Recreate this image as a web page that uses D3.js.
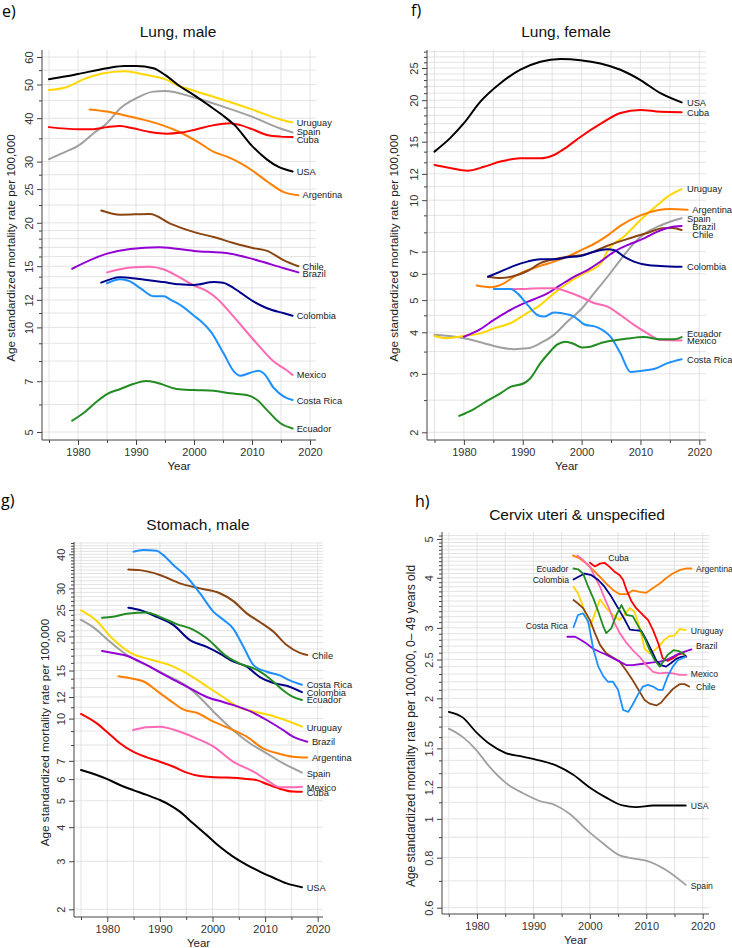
<!DOCTYPE html>
<html><head><meta charset="utf-8">
<script src="https://cdn.jsdelivr.net/npm/d3@7"></script>
<style>body{margin:0;background:#fff}svg{display:block}</style>
</head><body>
<svg id="c" width="732" height="948"></svg>
<script>
// ---------- categories / colours ----------
const countries = ["Spain","Uruguay","Argentina","Cuba","USA","Chile","Brazil","Mexico","Colombia","Costa Rica","Ecuador"];
const countryColors = ["#A0A0A0","#FFD700","#FF7F00","#FF0000","#000000","#8B4513","#9400D3","#FF69B4","#00008B","#1E90FF","#228B22"];

// ---------- e) Lung, male ----------
const lungMaleUSA = [[1975,51.8],[1978,52.8],[1980,53.6],[1985,55.7],[1988,56.5],[1990,56.5],[1993,55.7],[1995,53.3],[1997.5,49.5],[2000,46.6],[2002.5,43.6],[2005,40.7],[2007,38.2],[2010,33.3],[2012.6,30.4],[2014.5,29.0],[2017,28.1]];
const lungMaleUruguay = [[1975,48.2],[1978,49.1],[1981,51.8],[1984,53.7],[1988,54.6],[1991.5,53.4],[1995,51.8],[1997.5,49.5],[2000,48.0],[2005,45.2],[2010,42.4],[2015,39.6],[2017,38.9]];
const lungMaleSpain = [[1975,30.5],[1978,32.1],[1980,33.3],[1982.7,36.2],[1985,38.7],[1987.3,42.7],[1990,45.6],[1993,47.7],[1995,47.9],[2000,45.9],[2005,43.2],[2010,40.4],[2015,37.3],[2017,36.4]];
const lungMaleCuba = [[1975,37.7],[1980,37.2],[1982.7,37.2],[1985,37.7],[1987.3,38.0],[1989.5,37.4],[1992.4,36.5],[1995.3,36.1],[1997.5,36.3],[2000,37.0],[2003.4,38.2],[2006.2,38.7],[2008,38.2],[2010,37.2],[2012.6,35.8],[2014.9,35.4],[2017,35.3]];
const lungMaleArgentina = [[1982,42.4],[1985,41.8],[1988,40.8],[1991,39.7],[1994.5,38.2],[1997.5,36.5],[2001,33.9],[2003.4,32.0],[2005.7,31.0],[2008,29.7],[2010.3,28.1],[2012.6,26.3],[2015.5,24.5],[2018,24.0]];
const lungMaleChile = [[1984,21.7],[1987.3,21.1],[1992.4,21.2],[1995.9,19.9],[2000,18.8],[2003.4,18.2],[2006.8,17.5],[2010.3,16.9],[2012.6,16.6],[2015.5,15.6],[2018,15.0]];
const lungMaleBrazil = [[1979,14.75],[1985,16.3],[1989,16.8],[1994,17.0],[2000,16.6],[2006.3,16.3],[2010.3,15.7],[2015.5,14.8],[2018,14.4]];
const lungMaleMexico = [[1985,14.4],[1989.6,14.9],[1992.4,14.95],[1994.7,14.7],[1997,14.1],[2000,13.2],[2002.3,12.7],[2004,12.1],[2006.9,10.7],[2010.3,9.2],[2013.8,7.96],[2016.1,7.5],[2017,7.3]];
const lungMaleColombia = [[1984,13.45],[1987.3,13.95],[1990.2,13.8],[1994.7,13.5],[1997.5,13.3],[2000,13.25],[2003.4,13.5],[2005,13.45],[2006.9,12.96],[2010.3,11.86],[2012.6,11.35],[2015.5,10.98],[2017,10.8]];
const lungMaleCostaRica = [[1985,13.4],[1987.3,13.75],[1988.8,13.6],[1990.8,12.95],[1993,12.3],[1994.8,12.3],[1996,12.0],[1998,11.5],[2000,10.8],[2001.1,10.45],[2002.9,9.72],[2005.1,8.42],[2006.9,7.46],[2008,7.26],[2010.3,7.46],[2011.1,7.5],[2012,7.38],[2013.8,6.68],[2015.5,6.32],[2017,6.18]];
const lungMaleEcuador = [[1979,5.39],[1980.9,5.66],[1983.2,6.11],[1985,6.43],[1987.3,6.65],[1989.5,6.87],[1991.8,7.01],[1993.6,6.93],[1997,6.65],[2000,6.6],[2003.4,6.57],[2006.3,6.46],[2009.1,6.39],[2010.9,6.18],[2012.6,5.78],[2014.9,5.3],[2017,5.12]];
const lungMaleTicks = [5,7,10,12,15,20,25,30,40,50,60];
const lungMaleMinor = [6,8,9,11,13,14,16,17,18,19,22.5,27.5,35,45,55];
const lungMaleLabels = [["Uruguay",2017.7,38.8],["Spain",2017.7,36.5],["Cuba",2017.7,34.6],["USA",2017.7,28.0],["Argentina",2018.7,24.1],["Chile",2018.7,15.0],["Brazil",2018.7,14.3],["Colombia",2017.7,10.8],["Mexico",2017.7,7.3],["Costa Rica",2017.7,6.14],["Ecuador",2017.7,5.1]];

// ---------- f) Lung, female ----------
const lungFemaleUSA = [[1975,14.0],[1977.7,15.4],[1980,17.05],[1982.8,19.8],[1986.2,22.5],[1989.6,24.7],[1993,26.1],[1996.4,26.6],[1999.8,26.4],[2003.2,25.8],[2006.6,24.7],[2010,23.0],[2013.4,21.0],[2017,19.7]];
const lungFemaleCuba = [[1975,12.77],[1977.7,12.5],[1980.6,12.27],[1983.4,12.6],[1986.2,13.07],[1989.6,13.37],[1993,13.37],[1995.3,13.68],[1997.6,14.5],[1999.8,15.5],[2003.2,16.96],[2006.6,18.3],[2010,18.7],[2013.4,18.45],[2017,18.4]];
const lungFemaleUruguay = [[1975,3.9],[1977.2,3.84],[1980,3.9],[1982.8,3.97],[1985.1,4.11],[1987.9,4.26],[1990.2,4.51],[1993,4.84],[1995.3,5.24],[1997.6,5.62],[2000.4,6.02],[2003.3,6.46],[2004.5,7.08],[2007.2,7.77],[2010,8.72],[2012.9,9.67],[2014.6,10.25],[2017,10.8]];
const lungFemaleArgentina = [[1982.2,5.53],[1984.5,5.47],[1986.8,5.62],[1988.5,5.88],[1990.2,6.09],[1993,6.34],[1995.3,6.53],[1997.6,6.76],[2000,7.08],[2002.5,7.45],[2004.5,7.85],[2006.7,8.4],[2010,9.0],[2012.9,9.33],[2015,9.41],[2018,9.35]];
const lungFemaleSpain = [[1975,3.93],[1980,3.84],[1983.4,3.71],[1986.2,3.6],[1988.5,3.56],[1990.8,3.58],[1993,3.71],[1995.3,3.93],[1997.6,4.31],[1999.8,4.67],[2002.1,5.24],[2004.4,5.88],[2006.6,6.61],[2008.9,7.42],[2010.8,7.95],[2013.6,8.42],[2017,8.82]];
const lungFemaleBrazil = [[1980,3.88],[1982.8,4.09],[1985.1,4.36],[1987.4,4.62],[1989.6,4.84],[1991.9,5.03],[1994.2,5.24],[1996.4,5.55],[1998.7,5.88],[2001,6.16],[2003.2,6.53],[2005.5,6.99],[2008,7.35],[2010,7.59],[2012.9,8.04],[2015.1,8.29],[2017,8.36]];
const lungFemaleChile = [[1984.1,5.88],[1986.2,5.83],[1988.5,5.91],[1990.8,6.12],[1993,6.46],[1995.3,6.64],[1997.6,6.76],[2000.2,6.84],[2002.1,7.0],[2004.3,7.28],[2007.6,7.62],[2011,7.95],[2013.8,8.23],[2015.5,8.25],[2017,8.13]];
const lungFemaleColombia = [[1984.1,5.88],[1986.2,6.09],[1988.5,6.34],[1990.8,6.53],[1993,6.64],[1995.3,6.64],[1997.6,6.73],[1999.8,6.79],[2002.1,6.99],[2004.4,7.11],[2005.5,7.08],[2007.2,6.76],[2008.9,6.53],[2011.2,6.38],[2013.4,6.34],[2017,6.3]];
const lungFemaleMexico = [[1985.1,5.4],[1989.1,5.4],[1993,5.43],[1995.3,5.43],[1997.6,5.3],[1999.8,5.12],[2002.1,4.9],[2004.4,4.78],[2006.6,4.51],[2008.9,4.21],[2011.2,3.97],[2013.4,3.79],[2017,3.78]];
const lungFemaleCostaRica = [[1985.1,5.4],[1987.9,5.4],[1989.1,5.24],[1990.8,4.84],[1992.5,4.51],[1993.6,4.46],[1995.3,4.59],[1997.6,4.53],[1998.7,4.46],[2000.4,4.23],[2002.7,4.14],[2004.9,3.88],[2006.6,3.46],[2008.3,3.04],[2010,3.06],[2012.3,3.1],[2014.6,3.23],[2017,3.32]];
const lungFemaleEcuador = [[1979.2,2.24],[1981.7,2.35],[1984,2.49],[1986.2,2.62],[1987.9,2.74],[1990.2,2.81],[1991.3,2.91],[1993,3.23],[1994.4,3.46],[1995.9,3.68],[1997.3,3.75],[1998.7,3.69],[2000.1,3.6],[2001.5,3.62],[2003.2,3.71],[2005.5,3.78],[2007.8,3.83],[2010.6,3.87],[2013.4,3.81],[2015.7,3.81],[2017,3.87]];
const lungFemaleTicks = [2,3,4,5,6,7,10,12,15,20,25];
const lungFemaleMinor = [2.5,3.5,4.5,8,9,11,13,14,16,17,18,19,21,22,23,24,26,27,28];
const lungFemaleLabels = [["USA",2017.9,19.7],["Cuba",2017.9,18.3],["Uruguay",2017.9,10.8],["Argentina",2018.8,9.35],["Spain",2017.9,8.8],["Brazil",2018.8,8.32],["Chile",2018.8,7.87],["Colombia",2017.9,6.3],["Ecuador",2017.9,3.96],["Mexico",2017.9,3.77],["Costa Rica",2017.9,3.32]];

// ---------- g) Stomach, male ----------
const stomachUSA = [[1975,6.48],[1978,6.21],[1979.9,6.01],[1982.4,5.71],[1984.9,5.47],[1987.5,5.25],[1990,5.03],[1991.9,4.82],[1993.8,4.56],[1996.3,4.13],[1998.9,3.74],[2001.4,3.39],[2003.9,3.12],[2006.5,2.91],[2009,2.75],[2011.6,2.61],[2014.1,2.49],[2017,2.41]];
const stomachCuba = [[1975,10.4],[1978,9.6],[1979.9,8.95],[1982.4,8.12],[1984.9,7.56],[1987.5,7.21],[1990,6.95],[1992.6,6.66],[1995.1,6.34],[1997.6,6.16],[2000.2,6.1],[2002.7,6.08],[2006.5,6.01],[2008.4,5.95],[2010.3,5.76],[2012.8,5.53],[2015.3,5.4],[2017,5.39]];
const stomachMexico = [[1984.9,9.08],[1987.5,9.29],[1990,9.34],[1993.8,8.95],[1997.6,8.35],[2000.2,7.89],[2003.9,6.95],[2007.8,6.39],[2010.3,5.95],[2012.8,5.6],[2015,5.6],[2017,5.63]];
const stomachArgentina = [[1982.1,14.3],[1984.9,14.0],[1986.8,13.7],[1990,12.4],[1992.6,11.4],[1994.4,10.8],[1997,10.5],[2000.2,9.74],[2003.2,9.21],[2006.5,8.58],[2009.6,7.78],[2012.8,7.42],[2015.3,7.25],[2018,7.2]];
const stomachBrazil = [[1979,17.7],[1981.1,17.4],[1983.7,17.0],[1987.5,15.7],[1991.3,14.3],[1995.1,13.1],[1998.9,12.0],[2002,11.5],[2004,11.2],[2007.8,10.5],[2010.3,9.88],[2013.4,9.08],[2015.3,8.58],[2018,8.23]];
const stomachSpain = [[1975,23.0],[1977.5,21.5],[1980,19.5],[1982.5,17.8],[1985,16.5],[1987.5,15.7],[1991.3,14.4],[1995,13.2],[1997.5,12.0],[2000.2,10.6],[2003.9,9.08],[2007.1,8.12],[2010.3,7.46],[2013.4,6.86],[2017,6.34]];
const stomachUruguay = [[1975,24.9],[1978,22.8],[1981,19.6],[1984.7,17.3],[1988,16.5],[1991.5,15.8],[1995.5,14.5],[1999,13.1],[2002,12.0],[2005,11.0],[2008,10.6],[2011.6,10.2],[2014.7,9.74],[2017,9.34]];
const stomachEcuador = [[1979,23.4],[1981.1,23.6],[1983.7,24.2],[1987.5,24.5],[1990,23.6],[1993.2,22.2],[1996.3,21.2],[1998.9,19.7],[2002.7,16.9],[2005.2,15.9],[2008.4,15.1],[2010.9,14.0],[2013.4,12.7],[2015.3,12.0],[2017,11.7]];
const stomachColombia = [[1984,25.5],[1986.2,25.0],[1989.4,23.6],[1992.6,22.0],[1995.7,19.4],[1998.9,18.3],[2001.4,17.3],[2003.9,16.2],[2006.5,15.5],[2009,14.2],[2011.6,13.5],[2014.1,13.2],[2017,12.5]];
const stomachChile = [[1984,35.2],[1986.2,35.0],[1990,33.6],[1993.8,31.3],[1997.6,30.0],[2001.4,28.8],[2003.9,27.0],[2006.5,24.3],[2009,22.6],[2011.6,20.8],[2014.1,18.6],[2016.6,17.4],[2018,17.1]];
const stomachCostaRica = [[1985,40.9],[1986.8,41.5],[1989.4,41.2],[1990.6,39.8],[1992.6,36.5],[1995.1,33.1],[1997.6,28.8],[2000.2,24.6],[2002.1,23.0],[2003.9,21.4],[2005.9,18.3],[2007.8,15.7],[2010.3,14.85],[2012.8,14.4],[2014.7,13.8],[2017,13.3]];
const stomachTicks = [2,3,4,5,6,7,10,12,15,20,25,30,40];
const stomachMinor = [8,9,11,13,14,16,17,18,19,21,22,23,24,26,27,28,29,31,32,33,34,35,36,37,38,39,41,42,43,44];
const stomachLabels = [["Chile",2018.9,17.0],["Costa Rica",2017.9,13.3],["Colombia",2017.9,12.4],["Ecuador",2017.9,11.7],["Uruguay",2017.9,9.29],["Brazil",2018.9,8.23],["Argentina",2018.9,7.19],["Spain",2017.9,6.3],["Mexico",2017.9,5.6],["Cuba",2017.9,5.37],["USA",2017.9,2.4]];

// ---------- h) Cervix uteri & unspecified ----------
const cervixUSA = [[1975,1.85],[1977.5,1.79],[1979.8,1.65],[1982.2,1.54],[1985.1,1.46],[1988.1,1.43],[1991,1.40],[1994,1.36],[1997,1.29],[1999.9,1.20],[2002.9,1.13],[2005.8,1.08],[2008.2,1.07],[2011.2,1.08],[2014.1,1.08],[2017,1.08]];
const cervixSpain = [[1975,1.68],[1977.5,1.60],[1979.8,1.49],[1982.2,1.35],[1985.1,1.23],[1988.1,1.16],[1991,1.11],[1994,1.08],[1996.4,1.03],[1999.4,0.94],[2002.3,0.869],[2005.2,0.812],[2007.6,0.797],[2010.5,0.782],[2013.5,0.745],[2017,0.684]];
const cervixArgentina = [[1997,4.55],[1998.2,4.47],[1999.4,4.34],[2000.6,4.18],[2001.8,4.02],[2002.9,3.87],[2004.1,3.73],[2005.3,3.64],[2006.5,3.64],[2007.6,3.72],[2008.8,3.69],[2010,3.67],[2011.2,3.77],[2012.4,3.87],[2013.5,3.99],[2014.7,4.10],[2015.9,4.18],[2017.1,4.22],[2018,4.22]];
const cervixCuba = [[2000,4.36],[2000.9,4.27],[2001.8,4.34],[2002.6,4.36],[2003.5,4.26],[2004.4,4.14],[2005.3,4.06],[2005.9,3.95],[2006.5,3.73],[2007.4,3.49],[2008.2,3.36],[2009.4,3.23],[2010.3,3.14],[2011.2,2.96],[2012.1,2.75],[2012.9,2.52],[2013.8,2.48],[2014.7,2.52],[2015.6,2.57],[2016.5,2.59],[2017.1,2.54]];
const cervixMexico = [[1997.8,4.55],[1998.8,4.43],[2000,4.26],[2000.9,4.02],[2001.8,3.80],[2002.6,3.56],[2003.5,3.33],[2004.4,3.08],[2005.3,2.91],[2006.5,2.75],[2007.6,2.64],[2008.8,2.54],[2010,2.42],[2011.2,2.33],[2012.4,2.31],[2013.5,2.32],[2014.7,2.31],[2015.9,2.29],[2017.1,2.29]];
const cervixEcuador = [[1997.1,4.22],[1997.9,4.2],[1998.8,4.10],[1999.7,3.80],[2000.6,3.56],[2001.5,3.29],[2002.4,3.02],[2002.9,2.91],[2003.8,2.99],[2004.7,3.23],[2005.6,3.42],[2006.5,3.23],[2007.6,3.21],[2008.8,2.99],[2009.7,2.83],[2010.6,2.64],[2011.5,2.49],[2012.4,2.40],[2013.8,2.57],[2014.9,2.64],[2015.9,2.62],[2016.8,2.57]];
const cervixColombia = [[1997.1,3.96],[1997.9,4.02],[1999.1,4.10],[2000.3,4.06],[2001.5,3.95],[2002.6,3.80],[2003.8,3.59],[2005,3.36],[2006.2,3.14],[2007.1,2.97],[2007.9,2.96],[2009.1,2.95],[2010,2.80],[2010.9,2.64],[2011.8,2.48],[2012.6,2.42],[2013.5,2.40],[2014.4,2.45],[2015.3,2.51],[2016.2,2.54],[2017,2.55]];
const cervixUruguay = [[1997.1,3.80],[1997.9,3.66],[1998.8,3.39],[2000,3.01],[2000.9,3.26],[2001.8,3.53],[2002.9,3.36],[2004.1,3.23],[2005.3,3.14],[2006.2,3.25],[2007.1,3.36],[2007.9,3.29],[2008.8,3.02],[2009.7,2.66],[2010.6,2.59],[2011.5,2.64],[2012.4,2.71],[2013.2,2.80],[2014.1,2.86],[2015,2.87],[2015.9,2.98],[2017,2.96]];
const cervixCostaRica = [[1997.1,3.01],[1997.9,3.23],[1998.8,3.26],[1999.7,3.11],[2000.6,2.66],[2001.5,2.40],[2002.4,2.27],[2003.2,2.20],[2004.1,2.20],[2005,2.10],[2005.9,1.87],[2006.8,1.85],[2007.6,1.93],[2008.5,2.04],[2009.4,2.14],[2010.3,2.16],[2011.2,2.14],[2012.1,2.10],[2012.9,2.10],[2013.8,2.27],[2014.7,2.40],[2015.6,2.49],[2017,2.54]];
const cervixChile = [[1997.1,3.52],[1997.9,3.45],[1998.8,3.36],[2000,3.14],[2000.9,2.91],[2001.8,2.72],[2002.9,2.59],[2004.1,2.53],[2005.3,2.47],[2006.5,2.34],[2007.6,2.22],[2008.8,2.08],[2009.7,1.98],[2010.6,1.94],[2011.8,1.92],[2012.6,1.95],[2013.5,2.02],[2014.7,2.11],[2015.9,2.17],[2016.8,2.17],[2017.6,2.14]];
const cervixBrazil = [[1996,2.85],[1997.4,2.85],[1998.2,2.81],[1999.4,2.74],[2000.6,2.66],[2001.8,2.61],[2002.9,2.57],[2004.1,2.52],[2005.3,2.47],[2006.5,2.42],[2007.6,2.42],[2009.4,2.44],[2011.2,2.46],[2012.4,2.47],[2013.5,2.49],[2014.7,2.54],[2015.9,2.59],[2018,2.65]];
const cervixTicks = [0.6,0.8,1,1.2,1.5,2,2.5,3,4,5];
const cervixMinor = [0.7,0.9,1.1,1.3,1.4,1.6,1.7,1.8,1.9,2.1,2.2,2.3,2.4,2.6,2.7,2.8,2.9,3.1,3.2,3.3,3.4,3.5,3.6,3.7,3.8,3.9,4.1,4.2,4.3,4.4,4.5,4.6,4.7,4.8,4.9,5.1];
const cervixLabels = [["Cuba",2005.1,4.49],["Argentina",2018.8,4.21],["Ecuador",1996.2,4.22],["Colombia",1996.3,3.95],["Costa Rica",1996.1,3.03],["Uruguay",2017.9,2.95],["Brazil",2018.8,2.70],["Mexico",2017.9,2.30],["Chile",2018.8,2.14],["USA",2017.9,1.08],["Spain",2017.9,0.681]];

// ---------- x axis values ----------
const yearLabels = [1980,1990,2000,2010,2020];
const yearMinor = [1975,1985,1995,2005,2015];
const yearGrid = [1975,1980,1985,1990,1995,2000,2005,2010,2015,2020];

// ---------- drawing ----------
const svg = d3.select("#c");
const FONT = "'Liberation Sans', Arial, sans-serif";
const color = d3.scaleOrdinal().domain(countries).range(countryColors);

function drawPanel(p) {
  const x = d3.scaleLinear().domain([1980, 2020]).range(p.xr);
  const y = d3.scaleLog().domain(p.yd).range(p.yr);
  const g = svg.append("g");

  // grid
  g.append("g").selectAll("line").data(p.minor.concat(p.ticks)).join("line")
    .attr("x1", p.axisX).attr("x2", p.right)
    .attr("y1", d => y(d)).attr("y2", d => y(d))
    .attr("stroke", "#dcdcdc").attr("stroke-width", 0.8);
  g.append("g").selectAll("line").data(yearGrid).join("line")
    .attr("x1", d => x(d)).attr("x2", d => x(d))
    .attr("y1", p.top).attr("y2", p.bottom)
    .attr("stroke", "#dcdcdc").attr("stroke-width", 0.8);

  // series
  const order = countries.filter(c => p.series[c]);
  order.forEach(c => {
    const smooth = p.smooth === true || (Array.isArray(p.smooth) && p.smooth.includes(c));
    const line = d3.line().x(d => x(d[0])).y(d => y(d[1]))
      .curve(smooth ? d3.curveMonotoneX : d3.curveLinear);
    g.append("path").datum(p.series[c]).attr("d", line)
      .attr("fill", "none").attr("stroke", color(c))
      .attr("stroke-width", p.lw).attr("stroke-linejoin", "round").attr("stroke-linecap", "round");
  });

  // series labels
  g.append("g").selectAll("text").data(p.labels).join("text")
    .attr("x", d => x(d[1])).attr("y", d => y(d[2])).attr("dy", "0.36em")
    .attr("text-anchor", d => (p.anchors && p.anchors[d[0]]) || "start")
    .attr("font-family", FONT).attr("font-size", p.labelSize).attr("fill", "#222")
    .text(d => d[0]);

  // y axis
  const yAxis = g.append("g").attr("transform", `translate(${p.axisX},0)`);
  yAxis.call(d3.axisLeft(y).tickValues(p.minor).tickSize(3).tickFormat(""));
  yAxis.select(".domain").remove();
  const yAxisMaj = g.append("g").attr("transform", `translate(${p.axisX},0)`);
  yAxisMaj.call(d3.axisLeft(y).tickValues(p.ticks).tickSize(5).tickFormat(d => String(d)));
  yAxisMaj.select(".domain").remove();
  yAxisMaj.selectAll("text").attr("transform", "rotate(-90)").attr("x", 0).attr("y", -9)
    .attr("dy", 0).attr("text-anchor", "middle")
    .attr("font-family", FONT).attr("font-size", 11).attr("fill", "#333");
  g.selectAll(".tick line").attr("stroke", "#444");
  g.append("line").attr("x1", p.axisX).attr("x2", p.axisX).attr("y1", p.top).attr("y2", p.bottom)
    .attr("stroke", "#444").attr("stroke-width", 1);

  // x axis
  const xMin = g.append("g").attr("transform", `translate(0,${p.bottom})`);
  xMin.call(d3.axisBottom(x).tickValues(yearMinor).tickSize(3).tickFormat(""));
  xMin.select(".domain").remove();
  const xMaj = g.append("g").attr("transform", `translate(0,${p.bottom})`);
  xMaj.call(d3.axisBottom(x).tickValues(yearLabels).tickSize(5).tickFormat(d3.format("d")));
  xMaj.select(".domain").remove();
  xMaj.selectAll("text").attr("y", 8).attr("dy", "0.71em")
    .attr("font-family", FONT).attr("font-size", 11).attr("fill", "#333");
  g.selectAll(".tick line").attr("stroke", "#444");
  g.append("line").attr("x1", p.axisX).attr("x2", p.right).attr("y1", p.bottom).attr("y2", p.bottom)
    .attr("stroke", "#444").attr("stroke-width", 1);

  // titles
  g.append("text").attr("x", p.titleX).attr("y", p.titleY).attr("text-anchor", "middle")
    .attr("font-family", FONT).attr("font-size", 15.5).attr("fill", "#111").text(p.title);
  g.append("text").attr("x", p.panelX).attr("y", p.panelY)
    .attr("font-family", "'Open Sans', 'Liberation Sans', sans-serif").attr("font-size", 16).attr("fill", "#000").text(p.panel);
  g.append("text").attr("x", (p.axisX + p.right) / 2).attr("y", p.bottom + 29.5).attr("text-anchor", "middle")
    .attr("font-family", FONT).attr("font-size", 11.5).attr("fill", "#222").text("Year");
  g.append("text")
    .attr("transform", `translate(${p.axisX - p.ytOff},${(p.top + p.bottom) / 2 + 3}) rotate(-90)`)
    .attr("text-anchor", "middle")
    .attr("font-family", FONT).attr("font-size", p.ytSize).attr("fill", "#222").text(p.ytitle);
}

const YT = "Age standardized mortality rate per 100,000";

drawPanel({
  panel: "e)", panelX: 2, panelY: 17, title: "Lung, male", titleX: 178, titleY: 37,
  xr: [78, 310], yd: [5, 60], yr: [432, 57], axisX: 42, right: 316, top: 50, bottom: 440,
  ticks: lungMaleTicks, minor: lungMaleMinor, labels: lungMaleLabels, labelSize: 9.3, lw: 2,
  smooth: true, ytitle: YT, ytOff: 27, ytSize: 11.7,
  series: {"USA": lungMaleUSA, "Uruguay": lungMaleUruguay, "Spain": lungMaleSpain, "Cuba": lungMaleCuba,
    "Argentina": lungMaleArgentina, "Chile": lungMaleChile, "Brazil": lungMaleBrazil, "Mexico": lungMaleMexico,
    "Colombia": lungMaleColombia, "Costa Rica": lungMaleCostaRica, "Ecuador": lungMaleEcuador}
});

drawPanel({
  panel: "f)", panelX: 411, panelY: 16, title: "Lung, female", titleX: 566, titleY: 37,
  xr: [463.9, 699.3], yd: [2, 25], yr: [432.3, 68], axisX: 427, right: 706, top: 50, bottom: 440,
  ticks: lungFemaleTicks, minor: lungFemaleMinor, labels: lungFemaleLabels, labelSize: 9.3, lw: 2,
  smooth: true, ytitle: YT, ytOff: 29, ytSize: 11.7,
  series: {"USA": lungFemaleUSA, "Uruguay": lungFemaleUruguay, "Spain": lungFemaleSpain, "Cuba": lungFemaleCuba,
    "Argentina": lungFemaleArgentina, "Chile": lungFemaleChile, "Brazil": lungFemaleBrazil, "Mexico": lungFemaleMexico,
    "Colombia": lungFemaleColombia, "Costa Rica": lungFemaleCostaRica, "Ecuador": lungFemaleEcuador}
});

drawPanel({
  panel: "g)", panelX: 1, panelY: 506, title: "Stomach, male", titleX: 198, titleY: 530,
  xr: [107.3, 317.7], yd: [2, 40], yr: [909.3, 554.3], axisX: 74, right: 323, top: 542, bottom: 917,
  ticks: stomachTicks, minor: stomachMinor, labels: stomachLabels, labelSize: 9.3, lw: 2,
  smooth: true, ytitle: YT, ytOff: 25, ytSize: 11.7,
  series: {"USA": stomachUSA, "Uruguay": stomachUruguay, "Spain": stomachSpain, "Cuba": stomachCuba,
    "Argentina": stomachArgentina, "Chile": stomachChile, "Brazil": stomachBrazil, "Mexico": stomachMexico,
    "Colombia": stomachColombia, "Costa Rica": stomachCostaRica, "Ecuador": stomachEcuador}
});

drawPanel({
  panel: "h)", panelX: 415, panelY: 507, title: "Cervix uteri & unspecified", titleX: 577, titleY: 520,
  xr: [477, 702.7], yd: [0.6, 5], yr: [907.7, 539], axisX: 442, right: 709, top: 532, bottom: 914,
  ticks: cervixTicks, minor: cervixMinor, labels: cervixLabels, labelSize: 8.6, lw: 1.8,
  smooth: ["USA", "Spain"], ytitle: YT + ", 0\u2013 49 years old", ytOff: 27, ytSize: 12,
  anchors: {"Cuba": "middle", "Ecuador": "end", "Colombia": "end", "Costa Rica": "end"},
  series: {"USA": cervixUSA, "Uruguay": cervixUruguay, "Spain": cervixSpain, "Cuba": cervixCuba,
    "Argentina": cervixArgentina, "Chile": cervixChile, "Brazil": cervixBrazil, "Mexico": cervixMexico,
    "Colombia": cervixColombia, "Costa Rica": cervixCostaRica, "Ecuador": cervixEcuador}
});
</script>
</body></html>
